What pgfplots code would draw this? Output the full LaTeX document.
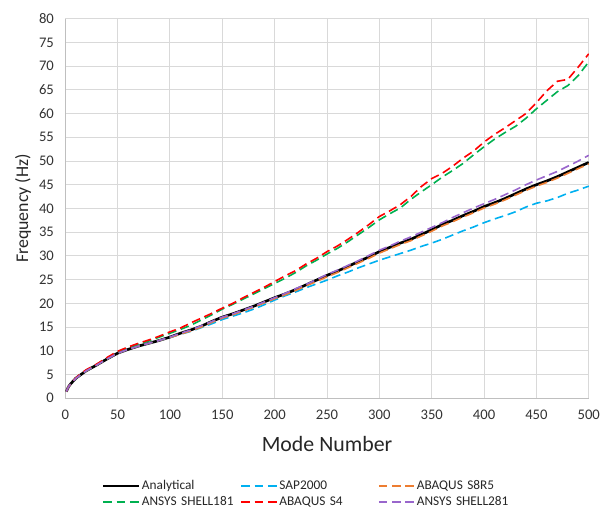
\documentclass[border=0pt]{standalone}
\usepackage{pgfplots}
\pgfplotsset{compat=1.18}
\usepackage{fontspec}
\setmainfont{Carlito}
\definecolor{cSAP}{RGB}{0,176,240}
\definecolor{cS8}{RGB}{237,125,49}
\definecolor{cS181}{RGB}{0,176,80}
\definecolor{cS4}{RGB}{255,0,0}
\definecolor{cS281}{RGB}{153,102,204}
\definecolor{gridc}{RGB}{217,217,217}
\definecolor{axc}{RGB}{191,191,191}
\begin{document}
\begin{tikzpicture}
\begin{axis}[
  width=393pt, height=285pt, scale only axis,
  xmin=0, xmax=500, ymin=0, ymax=80,
  xtick={0,50,...,500}, ytick={0,5,...,80},
  axis x line=bottom, axis y line=left,
  axis line style={-, draw=axc, line width=0.8pt},
  grid=major, major grid style={draw=gridc, line width=0.75pt},
  major tick length=0pt,
  /pgf/number format/assume math mode=true,
  ticklabel style={font=\fontsize{11}{13}\selectfont, text=black!80},
  xticklabel style={yshift=-5pt},
  yticklabel style={xshift=-5pt},
  xlabel={Mode Number}, ylabel={Frequency (Hz)},
  xlabel style={at={(axis description cs:0.5,-0.1204)}, anchor=center, font=\fontsize{16.4}{19}\selectfont, text=black!85},
  ylabel style={at={(axis description cs:-0.0807,0.5)}, anchor=center, font=\fontsize{13.4}{16}\selectfont, text=black!85},
  legend columns=3,
  legend cell align=left,
  legend style={at={(0.465,-0.252)}, anchor=center, draw=none, fill=none,
    font=\fontsize{10}{12}\selectfont, row sep=1.5pt,
    nodes={text width=73pt, align=left, inner sep=1pt, text=black!85}},
  legend image code/.code={\draw[#1] (0pt,0pt) -- (27pt,0pt);},
  every axis plot/.append style={line join=round},
]
\coordinate (sw) at (rel axis cs:0,0);
\coordinate (ne) at (rel axis cs:1,1);

% Analytical
\addplot[black, line width=2pt] coordinates {
(1,1.4)(3,2.4)(5,3.0)(10,4.2)(15,5.0)(20,5.8)(25,6.4)(30,7.0)(40,8.3)(50,9.5)
(60,10.3)(70,11.0)(80,11.6)(90,12.2)(100,12.9)(110,13.7)(120,14.4)(130,15.2)(140,16.2)(150,17.1)
(160,17.8)(170,18.6)(180,19.4)(190,20.3)(200,21.2)(210,22.0)(220,22.9)(230,23.9)(240,24.9)(250,25.9)
(260,26.8)(270,27.8)(280,28.8)(290,29.8)(300,30.9)(310,31.8)(320,32.7)(330,33.5)(340,34.5)(350,35.5)
(360,36.6)(370,37.5)(380,38.5)(390,39.4)(400,40.4)(410,41.2)(420,42.1)(430,43.1)(440,44.1)(450,45.0)
(460,45.8)(470,46.7)(480,47.7)(490,48.7)(500,49.7)};
\addlegendentry{Analytical}

% SAP2000
\addplot[cSAP, line width=1.2pt, dash pattern=on 6.5pt off 3.5pt] coordinates {
(1,1.4)(3,2.4)(5,3.0)(10,4.2)(15,5.0)(20,5.8)(25,6.4)(30,7.0)(40,8.3)(50,9.5)
(60,10.3)(70,11.0)(80,11.6)(90,12.2)(100,12.8)(110,13.5)(120,14.1)(130,14.9)(140,15.7)(150,16.6)
(160,17.3)(170,18.0)(180,18.8)(190,19.7)(200,20.7)(210,21.6)(220,22.4)(230,23.3)(240,24.1)(250,24.9)
(260,25.8)(270,26.6)(280,27.5)(290,28.3)(300,29.1)(310,29.8)(320,30.5)(330,31.2)(340,32.0)(350,32.7)
(360,33.5)(370,34.4)(380,35.3)(390,36.1)(400,37.0)(410,37.8)(420,38.5)(430,39.3)(440,40.3)(450,41.1)
(460,41.6)(470,42.3)(480,43.2)(490,43.9)(500,44.7)};
\addlegendentry{SAP2000}

% ABAQUS S8R5
\addplot[cS8, line width=1.2pt, dash pattern=on 6.5pt off 3.5pt] coordinates {
(1,1.4)(3,2.4)(5,3.0)(10,4.2)(15,5.0)(20,5.8)(25,6.4)(30,7.0)(40,8.3)(50,9.5)
(60,10.3)(70,11.0)(80,11.6)(90,12.2)(100,12.8)(110,13.5)(120,14.2)(130,15.0)(140,16.0)(150,16.9)
(160,17.6)(170,18.4)(180,19.2)(190,20.1)(200,21.0)(210,21.8)(220,22.7)(230,23.7)(240,24.6)(250,25.6)
(260,26.5)(270,27.5)(280,28.5)(290,29.5)(300,30.6)(310,31.5)(320,32.4)(330,33.2)(340,34.2)(350,35.2)
(360,36.3)(370,37.2)(380,38.2)(390,39.1)(400,40.1)(410,40.9)(420,41.8)(430,42.8)(440,43.8)(450,44.7)
(460,45.5)(470,46.4)(480,47.4)(490,48.4)(500,49.4)};
\addlegendentry{ABAQUS S8R5}

% ANSYS SHELL181
\addplot[cS181, line width=1.2pt, dash pattern=on 6.5pt off 3.5pt] coordinates {
(1,1.4)(3,2.4)(5,3.0)(10,4.3)(15,5.1)(20,5.9)(25,6.5)(30,7.1)(40,8.5)(50,9.8)
(60,10.7)(70,11.4)(80,12.1)(90,12.9)(100,13.7)(110,14.5)(120,15.4)(130,16.5)(140,17.6)(150,18.8)
(160,19.8)(170,20.9)(180,22.0)(190,23.1)(200,24.2)(210,25.3)(220,26.5)(230,27.9)(240,29.1)(250,30.4)
(260,31.6)(270,33.0)(280,34.5)(290,36.0)(300,37.6)(310,38.9)(320,40.1)(330,41.9)(340,43.5)(350,45.0)
(360,46.6)(370,48.0)(380,49.5)(390,51.3)(400,53.0)(410,54.6)(420,56.0)(430,57.3)(440,59.0)(450,61.0)
(460,62.8)(470,64.6)(480,65.9)(490,68.0)(500,70.9)};
\addlegendentry{ANSYS SHELL181}

% ABAQUS S4
\addplot[cS4, line width=1.2pt, dash pattern=on 6.5pt off 3.5pt] coordinates {
(1,1.4)(3,2.4)(5,3.0)(10,4.3)(15,5.2)(20,6.0)(25,6.6)(30,7.2)(40,8.6)(50,9.9)
(60,10.8)(70,11.6)(80,12.3)(90,13.1)(100,14.0)(110,14.8)(120,15.9)(130,16.9)(140,17.9)(150,19.0)
(160,20.0)(170,21.2)(180,22.3)(190,23.4)(200,24.6)(210,25.8)(220,26.9)(230,28.3)(240,29.5)(250,30.9)
(260,32.1)(270,33.5)(280,35.0)(290,36.6)(300,38.3)(310,39.5)(320,40.8)(330,42.5)(340,44.6)(350,46.3)
(360,47.4)(370,48.9)(380,50.6)(390,52.1)(400,54.0)(410,55.6)(420,57.0)(430,58.5)(440,60.0)(450,62.3)
(460,64.8)(470,66.8)(480,67.2)(490,69.8)(500,72.6)};
\addlegendentry{ABAQUS S4}

% ANSYS SHELL281
\addplot[cS281, line width=1.2pt, dash pattern=on 6.5pt off 3.5pt] coordinates {
(1,1.4)(3,2.4)(5,3.0)(10,4.2)(15,5.0)(20,5.8)(25,6.4)(30,7.0)(40,8.3)(50,9.5)
(60,10.3)(70,11.0)(80,11.6)(90,12.2)(100,12.9)(110,13.7)(120,14.4)(130,15.3)(140,16.2)(150,17.1)
(160,17.8)(170,18.6)(180,19.4)(190,20.3)(200,21.2)(210,22.1)(220,23.1)(230,24.0)(240,25.0)(250,26.1)
(260,27.0)(270,28.0)(280,29.0)(290,30.1)(300,31.2)(310,32.1)(320,33.1)(330,34.0)(340,35.0)(350,36.0)
(360,37.0)(370,38.1)(380,39.1)(390,40.1)(400,41.0)(410,41.9)(420,42.9)(430,43.9)(440,45.0)(450,46.0)
(460,46.9)(470,47.8)(480,48.9)(490,50.0)(500,51.2)};
\addlegendentry{ANSYS SHELL281}
\end{axis}
\pgfresetboundingbox
\path[use as bounding box] ([shift={(-49pt,-91.3pt)}]sw) rectangle ([shift={(15.2pt,14pt)}]ne);
\end{tikzpicture}
\end{document}
